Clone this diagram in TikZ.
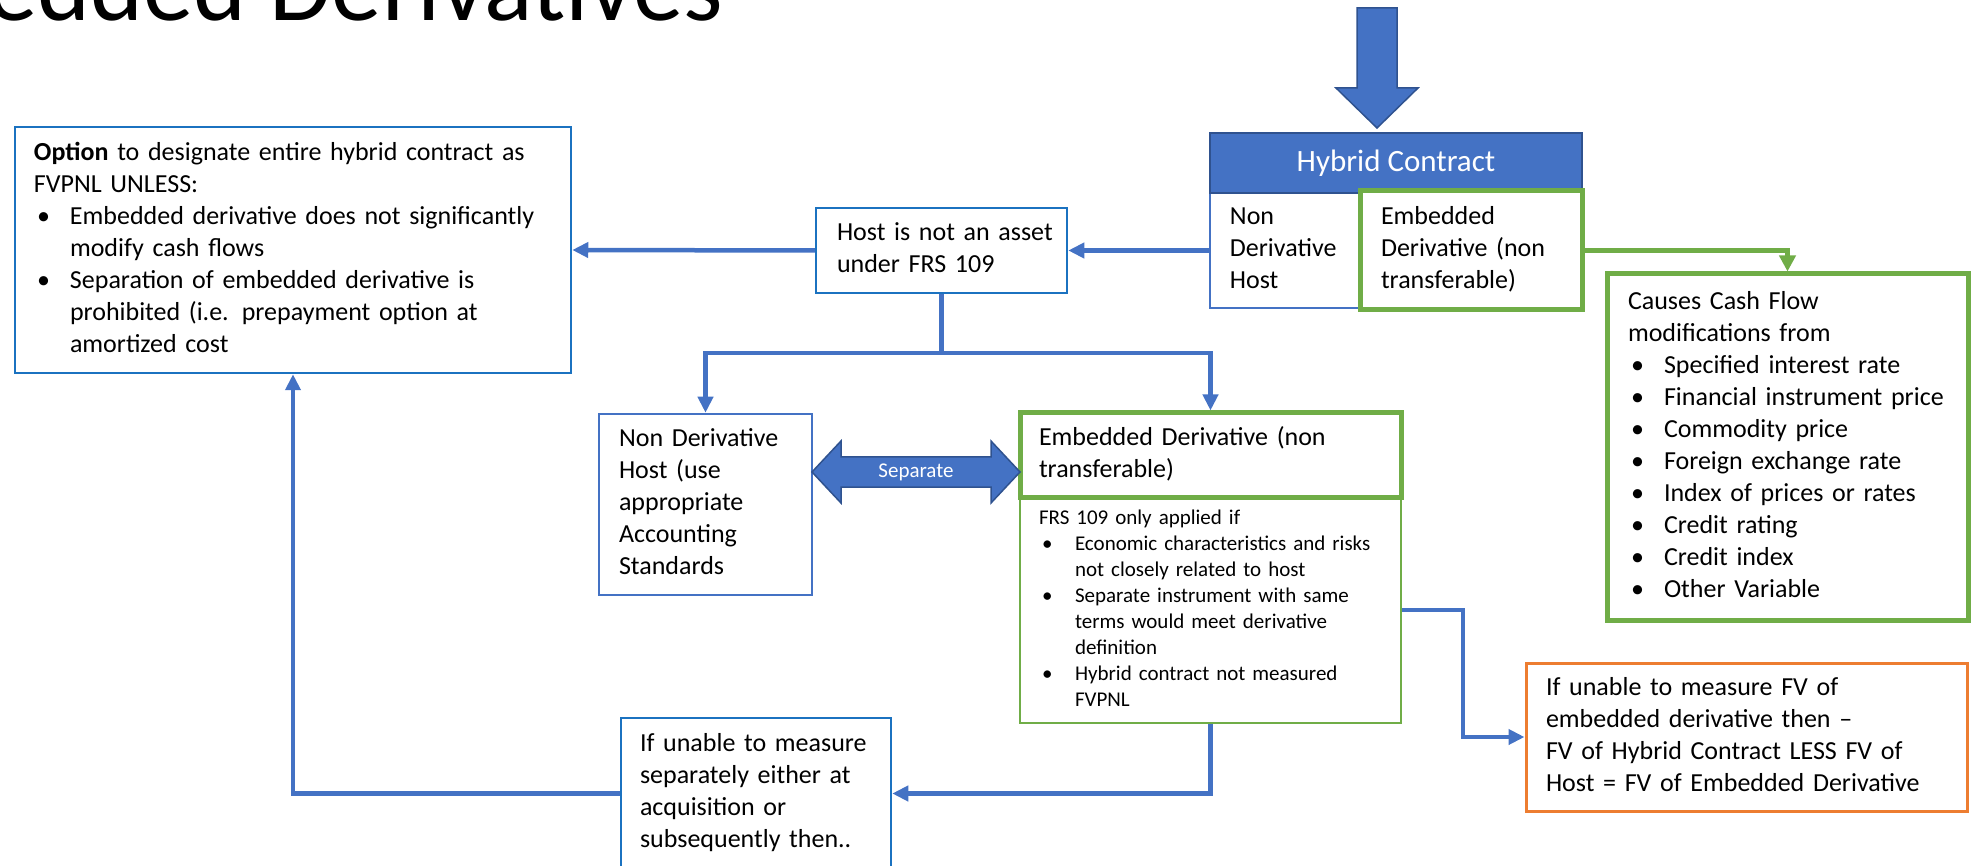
\documentclass[tikz,border=0pt]{standalone}
\usepackage{fontspec}
\setmainfont{Carlito}
\usetikzlibrary{arrows.meta}

\definecolor{lineblue}{HTML}{4472C4}
\definecolor{boxblue}{HTML}{1B72C0}
\definecolor{deepblue}{HTML}{2F528F}
\definecolor{leafgreen}{HTML}{70AD47}
\definecolor{tangerine}{HTML}{ED7D31}

% bullet cell, full-width row and a line table that never re-wraps
\newcommand{\bu}{\makebox[36pt][l]{\hspace{3pt}\textbullet}}
\newcommand{\full}[1]{\multicolumn{2}{@{}l@{}}{#1}}
\newcommand{\lines}[1]{\noindent\begin{tabular}{@{}l@{}l@{}}#1\end{tabular}}

\tikzset{
  bodytext/.style={font=\fontsize{26}{32}\selectfont},
  smalltext/.style={font=\fontsize{21}{26}\selectfont},
  box/.style={rectangle, align=left, inner ysep=0pt, fill=white},
  bluebox/.style={box, draw=boxblue, line width=2.5pt},
  paleblue/.style={box, draw=lineblue, line width=2.5pt},
  greenbox/.style={box, draw=leafgreen, line width=5pt},
  thingreen/.style={box, draw=leafgreen, line width=2.5pt},
  orangebox/.style={box, draw=tangerine, line width=3pt},
  conn/.style={draw=lineblue, line width=4.5pt, -{Triangle[length=16pt,width=15pt]}},
  plainconn/.style={draw=lineblue, line width=4.5pt},
  gconn/.style={draw=leafgreen, line width=4.5pt, -{Triangle[length=16pt,width=16pt]}},
  blockarrow/.style={fill=lineblue, draw=deepblue, line width=1.5pt, line join=miter},
}

\begin{document}
\begin{tikzpicture}[x=1pt, y=-1pt]
\useasboundingbox (0,0) rectangle (1974,866);
\clip (0,0) rectangle (1974,866);

% title, partly above the frame
\node (title) [anchor=base east, inner sep=0pt, font=\fontsize{101}{101}\selectfont]
  at (723,21) {Embedded Derivatives};

% incoming block arrow
\draw[blockarrow] (1357,8) -- (1397,8) -- (1397,88) -- (1418,88) -- (1377,128)
  -- (1336,88) -- (1357,88) -- cycle;

% hybrid contract
\node (hbody) [paleblue, minimum width=372pt, minimum height=115pt] at (1396,250.5) {};
\node (hhead) [rectangle, fill=lineblue, draw=deepblue, line width=1.5pt,
  minimum width=372pt, minimum height=60pt, text=white,
  font=\fontsize{31}{36}\selectfont] at (1396,163) {Hybrid Contract};
\node (hnd) [bodytext, anchor=west, inner sep=0pt] at ([xshift=21pt]hbody.west)
  {\lines{Non\\Derivative\\Host}};
\node (hemb) [greenbox, bodytext, text width=180pt, inner xsep=21pt,
  minimum height=119pt] at (1471,250.5)
  {\lines{Embedded\\Derivative (non\\transferable)}};

% cash-flow causes
\node (causes) [greenbox, bodytext, text width=319pt, inner xsep=21pt,
  minimum height=346pt] at (1787.5,447)
  {\lines{\full{Causes Cash Flow}\\
          \full{modifications from}\\
          \bu & Specified interest rate\\
          \bu & Financial instrument price\\
          \bu & Commodity price\\
          \bu & Foreign exchange rate\\
          \bu & Index of prices or rates\\
          \bu & Credit rating\\
          \bu & Credit index\\
          \bu & Other Variable}};

% host test
\node (host) [bluebox, bodytext, text width=209pt, inner xsep=21pt,
  minimum height=85pt] at (941.5,250.5)
  {\lines{Host is not an asset\\under FRS 109}};

% fair value option
\node (opt) [bluebox, bodytext, text width=518pt, inner xsep=19pt,
  minimum height=246pt] at (293,250)
  {\lines{\full{\textbf{Option} to designate entire hybrid contract as}\\
          \full{FVPNL UNLESS:}\\
          \bu & Embedded derivative does not significantly\\
              & modify cash flows\\
          \bu & Separation of embedded derivative is\\
              & prohibited (i.e. prepayment option at\\
              & amortized cost}};

% separated parts
\node (ndh) [paleblue, bodytext, text width=173pt, inner xsep=20pt,
  minimum height=181pt] at (705.5,504.5)
  {\lines{Non Derivative\\Host (use\\appropriate\\Accounting\\Standards}};
\node (frs) [thingreen, smalltext, text width=343pt, inner xsep=19pt,
  minimum height=226pt] at (1210.5,610)
  {\lines{\full{FRS 109 only applied if}\\
          \bu & Economic characteristics and risks\\
              & not closely related to host\\
          \bu & Separate instrument with same\\
              & terms would meet derivative\\
              & definition\\
          \bu & Hybrid contract not measured\\
              & FVPNL}};
\node (edbox) [greenbox, bodytext, text width=343pt, inner xsep=19pt,
  minimum height=84pt] at (1210.5,455)
  {\lines{Embedded Derivative (non\\transferable)}};

% measurement fallbacks
\node (unable) [bluebox, bodytext, text width=232pt, inner xsep=19pt,
  minimum height=151pt] at (756,793.5)
  {\lines{If unable to measure\\separately either at\\acquisition or\\subsequently then..}};
\node (fvdiff) [orangebox, bodytext, text width=401pt, inner xsep=20pt,
  minimum height=148pt] at (1746.5,737)
  {\lines{If unable to measure FV of\\embedded derivative then --\\FV of Hybrid Contract LESS FV of\\Host = FV of Embedded Derivative}};

% "Separate" double block arrow
\draw[blockarrow] (812,472) -- (841,441) -- (841,457) -- (991,457) -- (991,441)
  -- (1020,472) -- (991,503) -- (991,487) -- (841,487) -- (841,503) -- cycle;
\node (seplabel) [smalltext, text=white, inner sep=0pt] at (916,472) {Separate};

% connectors
\coordinate (split) at (941.5,353);
\coordinate (jog) at (1463,0);
\draw[conn] (hbody.west) -- (host.east);
\draw[conn] (host.west) -- (opt.east);
\draw[plainconn] (host.south) -- (split);
\draw[conn] (split) -| (ndh.north);
\draw[conn] (split) -| (edbox.north);
\draw[conn] (frs.south) |- (unable.east);
\draw[conn] (unable.west) -| (opt.south);
\draw[conn] (frs.east) -- (frs.east -| jog) |- (fvdiff.west);
\draw[gconn] (hemb.east) -| (causes.north);
\end{tikzpicture}
\end{document}
